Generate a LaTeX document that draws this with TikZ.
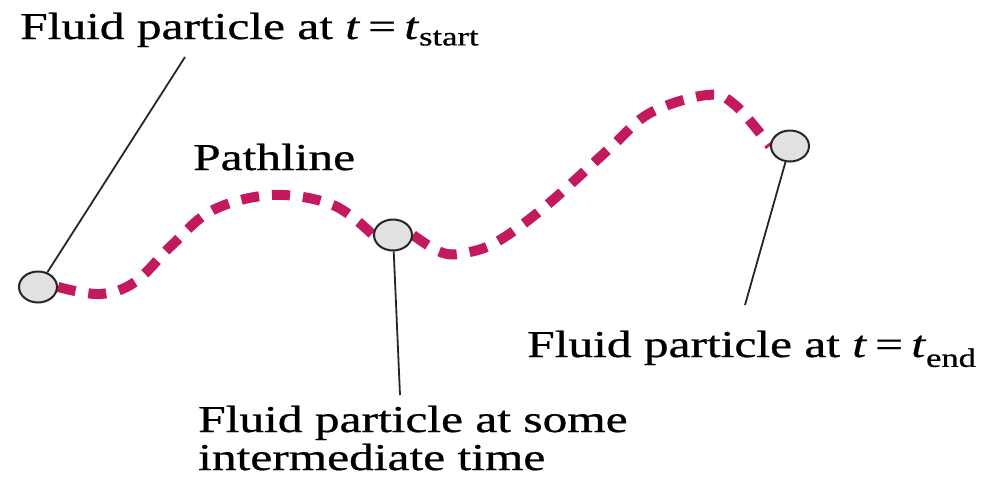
\documentclass[tikz,border=0pt]{standalone}
\usepackage{fontspec}
\setmainfont{Liberation Serif}[FakeBold=0.6]
\usetikzlibrary{shapes.geometric,backgrounds}
\definecolor{pathred}{RGB}{195,25,95}
\definecolor{partfill}{RGB}{225,225,225}
\newcommand{\wide}[1]{\scalebox{1.30}[1]{#1}}
\begin{document}
\begin{tikzpicture}[x=1pt,y=-1pt,
  particle/.style={ellipse,draw=black!85,line width=2pt,fill=partfill,
    minimum width=38pt,minimum height=31pt,inner sep=0pt},
  pathline/.style={draw=pathred,line width=10pt,dash pattern=on 18pt off 13pt},
  leader/.style={draw=black!85,line width=1.8pt},
  lbl/.style={inner sep=0pt,font=\fontsize{38}{38}\selectfont,align=left}]
\useasboundingbox (0,0) rectangle (1003,485);
\node[particle] (p1) at (38,287) {};
\node[particle] (p2) at (393,235) {};
\node[particle] (p3) at (790,146) {};
\begin{scope}[on background layer]
\draw[pathline] plot[smooth,tension=0.6] coordinates {(p1.east) (100,294) (135,282) (172,245) (213,210) (273,195) (333,205) (p2.west)};
\draw[pathline] plot[smooth,tension=0.6] coordinates {(p2.east) (443,253) (470,252) (500,240) (547,205) (610,148) (650,113) (707,95) (735,105) (p3.west)};
\end{scope}
\node[lbl,anchor=base west] (t1) at (20,39) {\wide{Fluid particle at \textit{t}\,=\,\textit{t}\textsubscript{start}}};
\node[lbl,anchor=base west] (t2) at (193,170) {\wide{Pathline}};
\node[lbl,anchor=base west] (t3) at (527,357) {\wide{Fluid particle at \textit{t}\,=\,\textit{t}\textsubscript{end}}};
\node[lbl,anchor=base west] (t4) at (198,432) {\wide{\begin{tabular}[t]{@{}l@{}}Fluid particle at some\\intermediate time\end{tabular}}};
\coordinate (c1) at (185,57);
\coordinate (c2) at (400,395);
\coordinate (c3) at (745,305);
\draw[leader] (p1) -- (c1);
\draw[leader] (p2) -- (c2);
\draw[leader] (p3) -- (c3);
\end{tikzpicture}
\end{document}
